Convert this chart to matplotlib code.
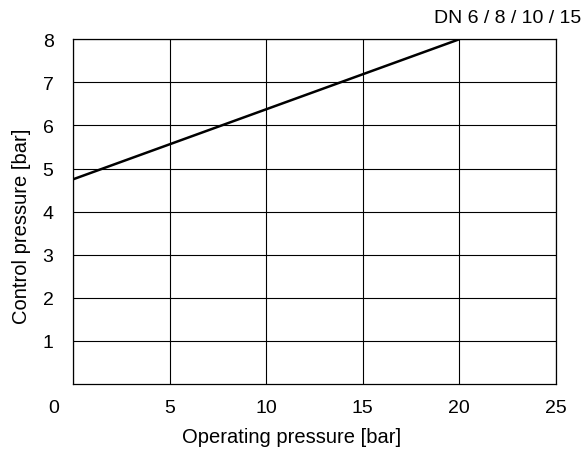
import matplotlib
matplotlib.use("Agg")
import matplotlib.pyplot as plt
from matplotlib.transforms import offset_copy

plt.rcParams['font.family'] = ['Liberation Sans', 'DejaVu Sans']

# operating pressure vs control pressure
operating = [0, 20]
control = [4.75, 8]
x_ticks = [0, 5, 10, 15, 20, 25]
y_ticks = [1, 2, 3, 4, 5, 6, 7, 8]
title = "DN 6 / 8 / 10 / 15"

fig = plt.figure(figsize=(5.84, 4.52), dpi=100)
ax = fig.add_axes([0.125, 0.148, 0.827, 0.763])

ax.plot(operating, control, color='black', lw=1.8, solid_capstyle='butt')

ax.set_xlim(0, 25)
ax.set_ylim(0, 8)
ax.set_xticks(x_ticks)
ax.set_yticks(y_ticks)
ax.grid(True, color='black', lw=0.8)
ax.tick_params(length=0, labelsize=14, colors='black')
ax.tick_params(axis='x', pad=11)
ax.tick_params(axis='y', pad=14)
for s in ax.spines.values():
    s.set_linewidth(0.9)

# the 0 label sits left of the corner
lab0 = ax.get_xticklabels()[0]
lab0.set_transform(offset_copy(lab0.get_transform(), fig=fig, x=-19, y=0, units='dots'))

# axis titles are centred on the figure, not on the axes
fig.text(0.5, 0.033, "Operating pressure [bar]", ha='center', va='center', fontsize=14.5)
fig.text(0.036, 0.5, "Control pressure [bar]", ha='center', va='center',
         rotation=90, fontsize=14.5)
fig.text(0.995, 0.958, title, ha='right', va='center', fontsize=14)

fig.savefig("out.png", dpi=100)
